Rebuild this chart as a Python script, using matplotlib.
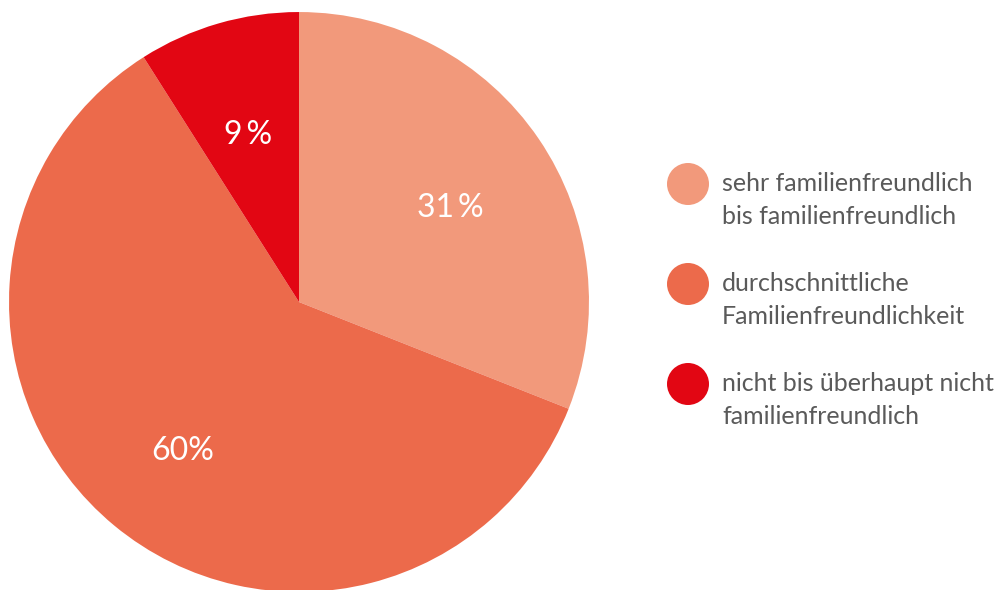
import matplotlib
matplotlib.use("Agg")
import matplotlib.pyplot as plt
from matplotlib.patches import Circle
import numpy as np

# Daten
categories = ["sehr familienfreundlich\nbis familienfreundlich",
              "durchschnittliche\nFamilienfreundlichkeit",
              "nicht bis überhaupt nicht\nfamilienfreundlich"]
values = [31, 60, 9]
value_labels = ["31\u2009%", "60%", "9\u2009%"]
colors = ["#F2997B", "#EC6A4B", "#E20613"]

plt.rcParams['font.family'] = ['Lato', 'DejaVu Sans']

fig = plt.figure(figsize=(10, 5.9), dpi=100)

# Kreisdiagramm
ax = fig.add_axes([0.009, -0.0034, 0.58, 0.983])
wedges, texts = ax.pie(values, colors=colors, startangle=90, counterclock=False,
                       radius=1, wedgeprops=dict(linewidth=0))
for w, lab in zip(wedges, value_labels):
    ang = np.deg2rad((w.theta1 + w.theta2) / 2)
    ax.text(0.63 * np.cos(ang), 0.63 * np.sin(ang) - 0.03, lab, color="white",
            fontsize=23, fontweight="normal", ha="center", va="center")
ax.set_xlim(-1, 1)
ax.set_ylim(-1, 1)
ax.set_aspect("equal")
ax.axis("off")

# Legende
lax = fig.add_axes([0, 0, 1, 1])
lax.set_xlim(0, 1000)
lax.set_ylim(590, 0)
lax.axis("off")
for i, (cat, col) in enumerate(zip(categories, colors)):
    y = 184 + i * 100
    lax.add_patch(Circle((688, y), 21, color=col, lw=0))
    lax.text(722, y + 16, cat, fontsize=18, fontweight="normal", color="#5a5a5a",
             ha="left", va="center", linespacing=1.55)

fig.savefig("out.png", dpi=100)
